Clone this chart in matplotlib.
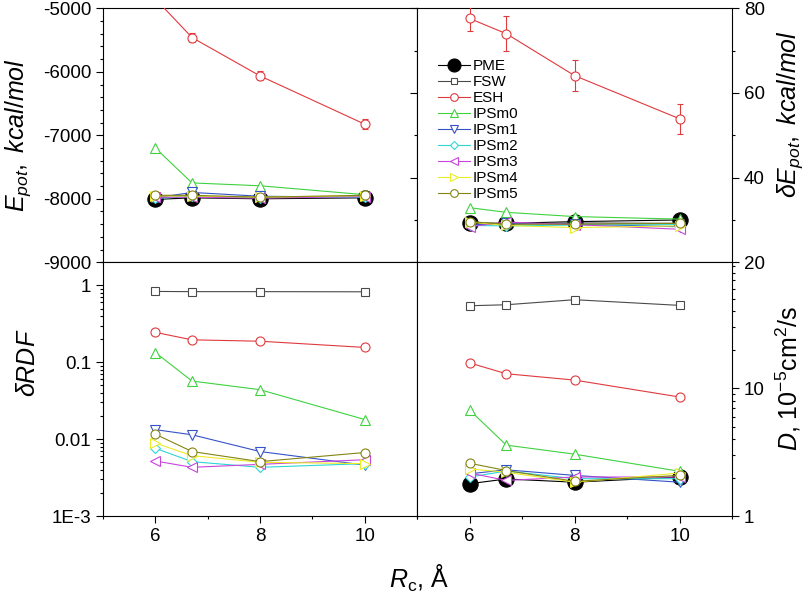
import numpy as np
import matplotlib
matplotlib.use("Agg")
import matplotlib.pyplot as plt
from matplotlib.ticker import MultipleLocator, FixedLocator, FuncFormatter, LogLocator, NullFormatter

plt.rcParams.update({
    "font.family": ["Liberation Sans", "DejaVu Sans"],
    "mathtext.fontset": "custom",
    "mathtext.rm": "Liberation Sans",
    "mathtext.it": "Liberation Sans:italic",
    "mathtext.bf": "Liberation Sans:bold",
    "axes.linewidth": 0.8,
})

rc = [6, 6.7, 8, 10]
methods = ["PME", "FSW", "ESH", "IPSm0", "IPSm1", "IPSm2", "IPSm3", "IPSm4", "IPSm5"]

# potential energy, kcal/mol
epot = {
    "PME": [-8010, -7985, -8000, -7985],
    "FSW": [-7985, -7965, -7975, -7975],
    "ESH": [-4850, -5460, -6065, -6825],
    "IPSm0": [-7200, -7750, -7795, -7935],
    "IPSm1": [-7985, -7900, -7960, -7975],
    "IPSm2": [-7995, -7960, -7980, -7970],
    "IPSm3": [-7975, -7975, -7990, -7965],
    "IPSm4": [-7955, -7955, -7975, -7950],
    "IPSm5": [-7945, -7945, -7975, -7945],
}
epot_err = {"ESH": [70, 70, 70, 80]}

# fluctuation of potential energy, kcal/mol
depot = {
    "PME": [29.3, 29.2, 29.6, 30.0],
    "FSW": [29.0, 29.0, 29.3, 29.2],
    "ESH": [77.6, 74.0, 64.1, 53.9],
    "IPSm0": [32.9, 31.8, 30.8, 30.2],
    "IPSm1": [28.8, 29.2, 29.0, 28.4],
    "IPSm2": [28.7, 28.6, 28.8, 28.9],
    "IPSm3": [28.4, 29.5, 28.9, 27.8],
    "IPSm4": [29.5, 28.7, 28.2, 28.6],
    "IPSm5": [29.6, 29.0, 29.0, 29.2],
}
depot_err = {"ESH": [3.0, 4.2, 3.7, 3.5]}

# RDF deviation from PME
drdf = {
    "FSW": [0.835, 0.83, 0.83, 0.826],
    "ESH": [0.245, 0.196, 0.188, 0.156],
    "IPSm0": [0.134, 0.057, 0.044, 0.018],
    "IPSm1": [0.0133, 0.0114, 0.0069, 0.0046],
    "IPSm2": [0.0076, 0.0051, 0.0043, 0.0048],
    "IPSm3": [0.0052, 0.0043, 0.0047, 0.0054],
    "IPSm4": [0.0089, 0.0061, 0.0050, 0.0048],
    "IPSm5": [0.0116, 0.0069, 0.0051, 0.0067],
}

# diffusion coefficient, 1e-5 cm^2/s
diff = {
    "PME": [1.79, 1.95, 1.84, 2.02],
    "FSW": [44.3, 45.1, 49.4, 44.6],
    "ESH": [15.8, 13.0, 11.6, 8.55],
    "IPSm0": [6.76, 3.59, 3.05, 2.24],
    "IPSm1": [2.14, 2.30, 2.08, 1.84],
    "IPSm2": [2.02, 2.25, 1.96, 1.96],
    "IPSm3": [2.17, 1.90, 2.02, 2.02],
    "IPSm4": [2.34, 2.20, 1.84, 2.17],
    "IPSm5": [2.59, 2.27, 1.87, 2.08],
}

styles = {
    "PME": dict(color="black", marker="o", ms=11, mfc="black"),
    "FSW": dict(color="#4a4a4a", marker="s", ms=5.5, mfc="white"),
    "ESH": dict(color="#e0393e", marker="o", ms=6.5, mfc="white"),
    "IPSm0": dict(color="#3fd23f", marker="^", ms=7, mfc="white"),
    "IPSm1": dict(color="#3552c8", marker="v", ms=7, mfc="white"),
    "IPSm2": dict(color="#2fd6d6", marker="D", ms=5, mfc="white"),
    "IPSm3": dict(color="#c845dc", marker="<", ms=7, mfc="white"),
    "IPSm4": dict(color="#ecec28", marker=">", ms=7, mfc="white"),
    "IPSm5": dict(color="#848414", marker="o", ms=6.5, mfc="white"),
}

fig = plt.figure(figsize=(8.1, 5.98), dpi=100)
ax_e = fig.add_axes([0.1272, 0.5614, 0.3877, 0.4247])
ax_de = fig.add_axes([0.5149, 0.5614, 0.3889, 0.4247])
ax_r = fig.add_axes([0.1272, 0.1371, 0.3877, 0.4243])
ax_d = fig.add_axes([0.5149, 0.1371, 0.3889, 0.4243])


def draw(ax, data, errs=None):
    for i, m in enumerate(methods):
        if m not in data:
            continue
        st = styles[m]
        if errs and m in errs:
            ax.errorbar(rc, data[m], yerr=errs[m], fmt="none", ecolor=st["color"],
                        elinewidth=0.8, capsize=2.5, capthick=0.8, zorder=2 + i)
        ax.plot(rc, data[m], color=st["color"], lw=0.8, marker=st["marker"],
                ms=st["ms"], mfc=st["mfc"], mec=st["color"], mew=0.8,
                label=m, zorder=2 + i)


draw(ax_e, epot, epot_err)
draw(ax_de, depot, depot_err)
draw(ax_r, drdf)
draw(ax_d, diff)

for ax in (ax_e, ax_de, ax_r, ax_d):
    ax.set_xlim(5, 11)
    ax.xaxis.set_major_locator(FixedLocator([6, 8, 10]))
    ax.xaxis.set_minor_locator(MultipleLocator(1))
    ax.tick_params(which="both", direction="out", labelsize=13.5, width=0.8)
    ax.tick_params(which="major", length=5)
    ax.tick_params(which="minor", length=2.5)

for ax in (ax_e, ax_de):
    ax.tick_params(axis="x", labelbottom=False)

ax_e.set_ylim(-9000, -5000)
ax_e.yaxis.set_major_locator(MultipleLocator(1000))
ax_e.yaxis.set_minor_locator(MultipleLocator(200))
ax_e.yaxis.set_major_formatter(FuncFormatter(lambda v, p: f"{v:.0f}"))

ax_de.set_ylim(20, 80)
ax_de.yaxis.set_major_locator(MultipleLocator(20))
ax_de.yaxis.set_minor_locator(MultipleLocator(10))
ax_de.yaxis.tick_right()
ax_de.tick_params(axis="y", which="both", left=True, right=True)

ax_r.set_yscale("log")
ax_r.set_ylim(1e-3, 2.0)
rdf_labels = {1: "1", 0.1: "0.1", 0.01: "0.01", 0.001: "1E-3"}
ax_r.yaxis.set_major_locator(FixedLocator([0.001, 0.01, 0.1, 1]))
ax_r.yaxis.set_major_formatter(FuncFormatter(
    lambda v, p: min(rdf_labels.items(), key=lambda kv: abs(np.log10(kv[0]) - np.log10(v)))[1]))
ax_r.yaxis.set_minor_locator(LogLocator(base=10, subs=np.arange(2, 10)))
ax_r.yaxis.set_minor_formatter(NullFormatter())

ax_d.set_yscale("log")
ax_d.set_ylim(1, 97)
ax_d.yaxis.set_major_locator(FixedLocator([1, 10]))
ax_d.yaxis.set_major_formatter(FuncFormatter(lambda v, p: f"{v:.0f}"))
ax_d.yaxis.set_minor_locator(LogLocator(base=10, subs=np.arange(2, 10)))
ax_d.yaxis.set_minor_formatter(NullFormatter())
ax_d.yaxis.tick_right()

# axis labels
fig.text(0.022, 0.774, r"$E_{pot}, \ kcal/mol$", rotation=90, fontsize=18,
         ha="center", va="center")
fig.text(0.035, 0.393, r"$\delta RDF$", rotation=90, fontsize=18,
         ha="center", va="center")
fig.text(0.975, 0.81, r"$\delta E_{pot}, \ kcal/mol$", rotation=90, fontsize=18,
         ha="center", va="center")
fig.text(0.973, 0.368, r"$D$, 10$^{-5}$cm$^{2}$/s", rotation=90, fontsize=18,
         ha="center", va="center")
fig.text(0.517, 0.033, r"$R_{\rm c}$, Å", fontsize=18, ha="center", va="center")

ax_de.legend(loc="upper left", bbox_to_anchor=(0.065, 0.80), frameon=False,
             fontsize=11, handlelength=2.1, handletextpad=0.2,
             labelspacing=0.13, borderaxespad=0, borderpad=0, markerscale=0.85)

fig.savefig("out.png", dpi=100)
